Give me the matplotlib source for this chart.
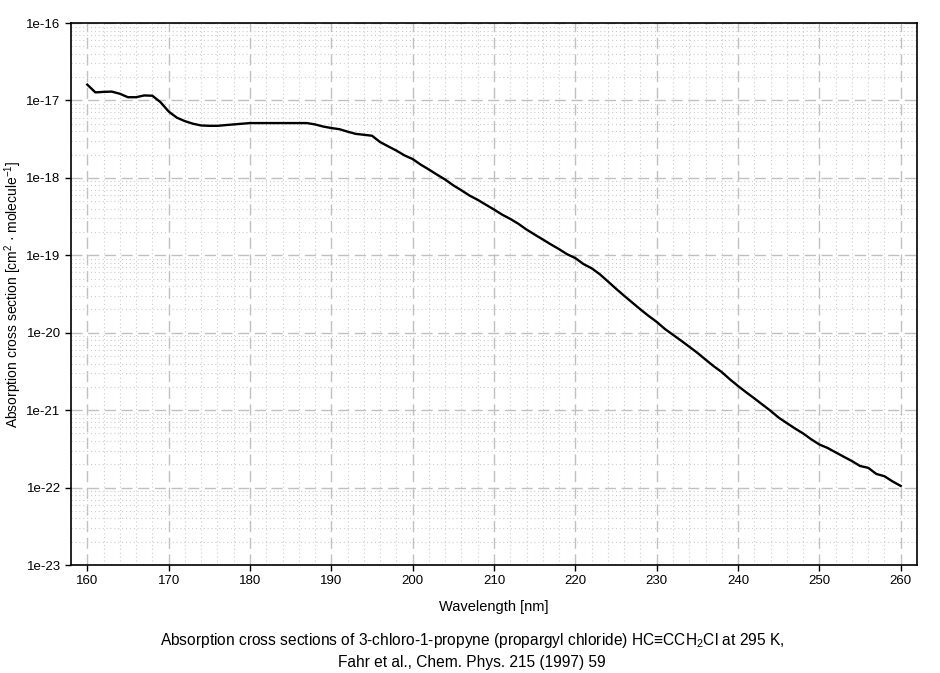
import matplotlib
matplotlib.use("Agg")
import matplotlib.pyplot as plt
import numpy as np
from matplotlib.ticker import LogLocator, MultipleLocator, NullFormatter

plt.rcParams['font.family'] = ['Liberation Sans', 'DejaVu Sans']
plt.rcParams['mathtext.fontset'] = 'custom'
plt.rcParams['mathtext.rm'] = 'Liberation Sans'
plt.rcParams['mathtext.it'] = 'Liberation Sans'
plt.rcParams['mathtext.bf'] = 'Liberation Sans:bold'

wavelength = list(range(160, 261))
cross_section = [
    1.6e-17, 1.27e-17, 1.29e-17, 1.30e-17, 1.22e-17, 1.10e-17, 1.10e-17, 1.16e-17, 1.15e-17, 9.5e-18,
    7.2e-18, 6.0e-18, 5.4e-18, 5.0e-18, 4.75e-18, 4.7e-18, 4.7e-18, 4.8e-18, 4.9e-18, 5.0e-18,
    5.1e-18, 5.1e-18, 5.1e-18, 5.1e-18, 5.1e-18, 5.1e-18, 5.1e-18, 5.1e-18, 4.9e-18, 4.6e-18,
    4.4e-18, 4.25e-18, 3.95e-18, 3.7e-18, 3.6e-18, 3.5e-18, 2.9e-18, 2.55e-18, 2.25e-18, 1.95e-18,
    1.75e-18, 1.48e-18, 1.28e-18, 1.1e-18, 9.5e-19, 8.0e-19, 6.9e-19, 5.9e-19, 5.2e-19, 4.5e-19,
    3.9e-19, 3.35e-19, 2.95e-19, 2.55e-19, 2.15e-19, 1.85e-19, 1.6e-19, 1.38e-19, 1.2e-19, 1.03e-19,
    9.2e-20, 7.7e-20, 6.8e-20, 5.7e-20, 4.6e-20, 3.7e-20, 3.0e-20, 2.45e-20, 2.0e-20, 1.65e-20,
    1.38e-20, 1.12e-20, 9.4e-21, 7.9e-21, 6.6e-21, 5.5e-21, 4.5e-21, 3.7e-21, 3.1e-21, 2.5e-21,
    2.05e-21, 1.7e-21, 1.42e-21, 1.18e-21, 9.8e-22, 8.0e-22, 6.8e-22, 5.8e-22, 5.0e-22, 4.2e-22,
    3.6e-22, 3.25e-22, 2.85e-22, 2.5e-22, 2.2e-22, 1.9e-22, 1.8e-22, 1.5e-22, 1.4e-22, 1.2e-22,
    1.05e-22,
]

x_ticks = [160, 170, 180, 190, 200, 210, 220, 230, 240, 250, 260]
y_ticks = [1e-23, 1e-22, 1e-21, 1e-20, 1e-19, 1e-18, 1e-17, 1e-16]
y_tick_labels = ["1e-23", "1e-22", "1e-21", "1e-20", "1e-19", "1e-18", "1e-17", "1e-16"]

fig = plt.figure(figsize=(9.4, 6.73), dpi=100)
ax = fig.add_axes([71/940, 1-565/673, (917-71)/940, (565-23)/673])

ax.plot(wavelength, cross_section, color='black', lw=1.7)
ax.set_yscale('log')
ax.set_xlim(158, 262)
ax.set_ylim(1e-23, 1e-16)

ax.set_xticks(x_ticks)
ax.xaxis.set_minor_locator(MultipleLocator(2))
ax.set_yticks(y_ticks)
ax.set_yticklabels(y_tick_labels)
ax.yaxis.set_minor_locator(LogLocator(base=10, subs=np.arange(2, 10), numticks=20))
ax.yaxis.set_minor_formatter(NullFormatter())

ax.grid(True, which='major', color='#c0c0c0', linestyle=(0, (8, 4)), lw=1.0)
ax.grid(True, which='minor', color='#cccccc', linestyle=(0, (1, 2.5)), lw=0.8)
ax.set_axisbelow(True)

ax.tick_params(which='major', direction='out', length=4, width=1, labelsize=9.5, colors='black')
ax.tick_params(which='minor', length=0)
for s in ax.spines.values():
    s.set_color('black')
    s.set_linewidth(1.2)

ax.set_xlabel("Wavelength [nm]", fontsize=10.5, labelpad=9)
ax.set_ylabel("Absorption cross section [cm$^2$ · molecule$^{-1}$]", fontsize=10, labelpad=2)

fig.text(472/940, 1-640/673, "Absorption cross sections of 3-chloro-1-propyne (propargyl chloride) HC≡CCH$_2$Cl at 295 K,",
         ha='center', va='center', fontsize=11.2)
fig.text(472/940, 1-662/673, "Fahr et al., Chem. Phys. 215 (1997) 59", ha='center', va='center', fontsize=11.2)

fig.savefig("out.png", dpi=100)
